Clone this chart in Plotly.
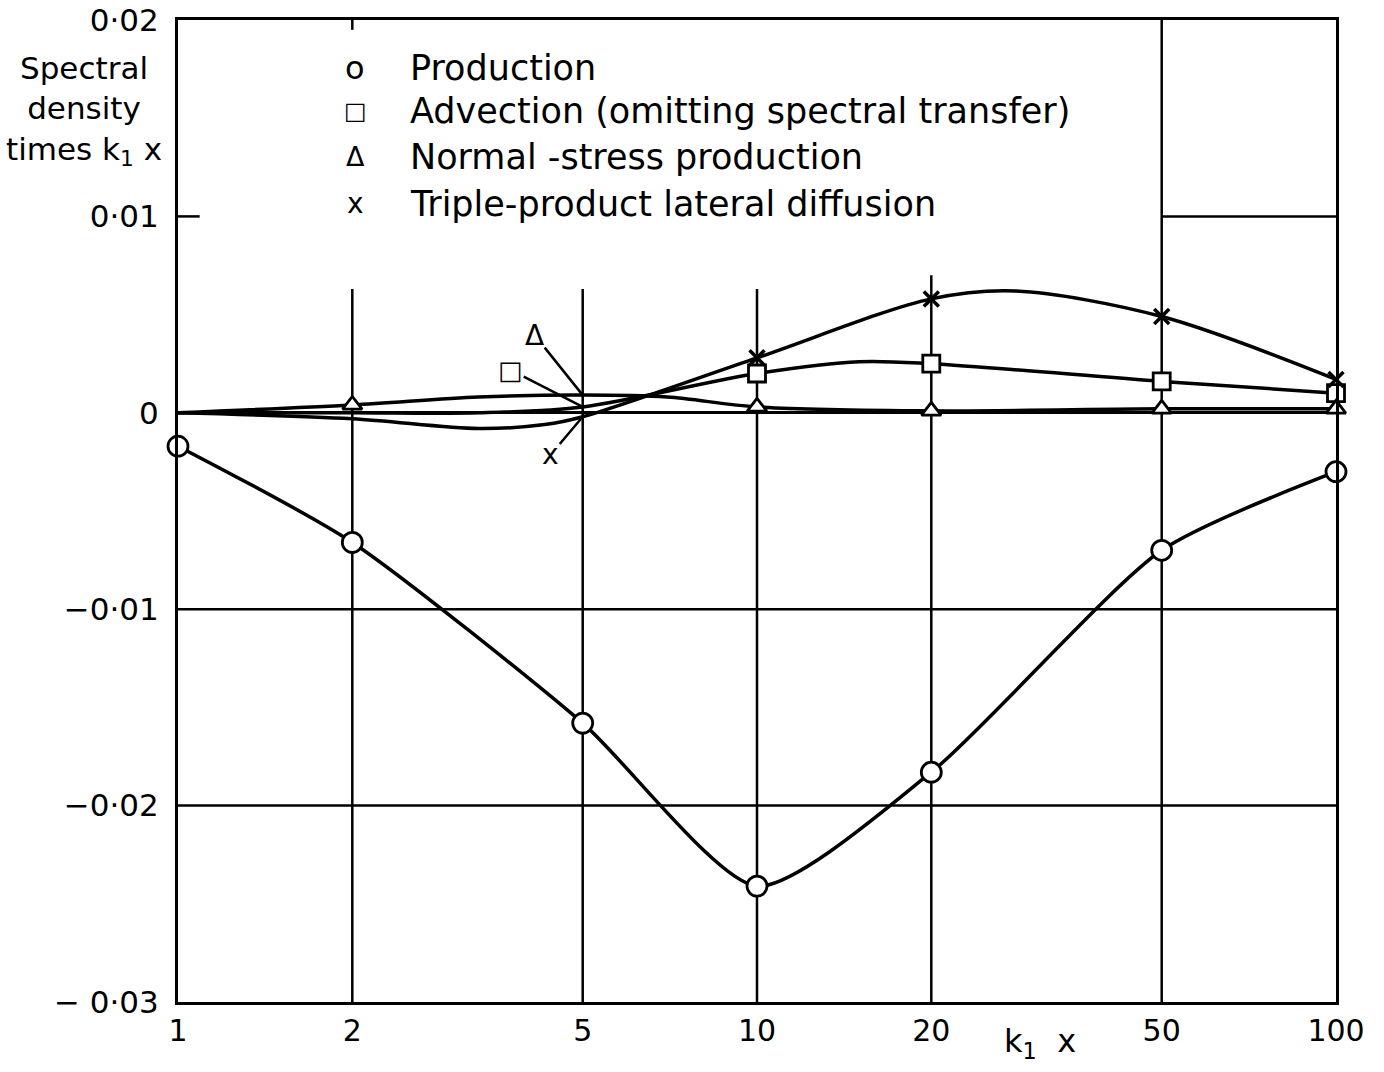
import numpy as np
import plotly.graph_objects as go

# ---- data: spectral terms against k1 x (readings along each curve) ----
prod_x = [1, 2, 5, 10, 20, 50, 100]
prod_y = [-0.0017, -0.0066, -0.0158, -0.0241, -0.0183, -0.0070, -0.0030]

adv_x = [1, 2, 3.3, 5, 10, 15, 20, 50, 100]
adv_y = [0.0, 0.0, 0.0, 0.0003, 0.0020, 0.0026, 0.0025, 0.0016, 0.0010]
adv_marked = [10, 20, 50, 100]

norm_x = [1, 2, 3.3, 5, 7, 10, 20, 50, 100]
norm_y = [0.0, 0.0004, 0.0008, 0.0009, 0.0008, 0.0003, 0.0001, 0.0002, 0.0002]
norm_marked = [2, 10, 20, 50, 100]

trip_x = [1, 2, 3.3, 4.3, 5, 10, 20, 28, 50, 100]
trip_y = [0.0, -0.0003, -0.0008, -0.0006, -0.0002, 0.0028, 0.0058, 0.0062, 0.0049, 0.0017]
trip_marked = [10, 20, 50, 100]

series_names = [
    "Production",
    "Advection (omitting spectral transfer)",
    "Normal -stress production",
    "Triple-product lateral diffusion",
]
legend_glyphs = ["o", "□", "Δ", "x"]
legend_glyph_sizes = [32, 24, 27, 28]

x_tickvals = [1, 2, 5, 10, 20, 50, 100]
x_ticktext = ["1", "2", "5", "10", "20", "50", "100"]
y_tickvals = [0.02, 0.01, 0, -0.01, -0.02, -0.03]
y_ticktext = ["0·02", "0·01", "0", "−0·01", "−0·02", "− 0·03"]

# grid segments: (x, y_from, y_to) and (y, x_from, x_to)
v_grid = [(2, -0.03, 0.0063), (5, -0.03, 0.0063), (10, -0.03, 0.0063),
          (20, -0.03, 0.0070), (50, -0.03, 0.02), (2, 0.0195, 0.02)]
h_grid = [(-0.01, 1, 100), (-0.02, 1, 100), (0.01, 50, 100), (0.01, 1, 1.09)]

FONT = "DejaVu Sans"
INK = "black"

# plot-area geometry in pixels
W, H = 1384, 1072
L, R, T, B = 178, 48, 20, 70
PW, PH = W - L - R, H - T - B


def px(xp):
    return (xp - L) / PW


def py(yp):
    return 1 - (yp - T) / PH


def pick(xs, ys, wanted):
    return [ys[xs.index(v)] for v in wanted]


fig = go.Figure()

# partial grid lines
gx, gy = [], []
for x, y0, y1 in v_grid:
    gx += [x, x, None]
    gy += [y0, y1, None]
for y, x0, x1 in h_grid:
    gx += [x0, x1, None]
    gy += [y, y, None]
fig.add_trace(go.Scatter(x=gx, y=gy, mode="lines", line=dict(color=INK, width=2.5),
                         hoverinfo="skip", showlegend=False))

# smooth curves
for xs, ys, sm in [(prod_x, prod_y, 0.65), (adv_x, adv_y, 0.9),
                   (norm_x, norm_y, 0.9), (trip_x, trip_y, 0.9)]:
    fig.add_trace(go.Scatter(x=xs, y=ys, mode="lines",
                             line=dict(color=INK, width=3.5, shape="spline", smoothing=sm),
                             hoverinfo="skip", showlegend=False))

# plotted points
mk_line = dict(color=INK, width=2.8)
fig.add_trace(go.Scatter(x=prod_x, y=prod_y, mode="markers", name=series_names[0],
                         cliponaxis=False,
                         marker=dict(symbol="circle", size=20, color="white", line=mk_line),
                         showlegend=False))
fig.add_trace(go.Scatter(x=adv_marked, y=pick(adv_x, adv_y, adv_marked), mode="markers",
                         name=series_names[1], cliponaxis=False,
                         marker=dict(symbol="square", size=17, color="white", line=mk_line),
                         showlegend=False))
fig.add_trace(go.Scatter(x=norm_marked, y=pick(norm_x, norm_y, norm_marked), mode="markers",
                         name=series_names[2], cliponaxis=False,
                         marker=dict(symbol="triangle-up", size=17, color="white", line=mk_line),
                         showlegend=False))
fig.add_trace(go.Scatter(x=trip_marked, y=pick(trip_x, trip_y, trip_marked), mode="markers",
                         name=series_names[3], cliponaxis=False,
                         marker=dict(symbol="x-thin", size=15, color=INK,
                                     line=dict(color=INK, width=3.5)),
                         showlegend=False))

annotations = []

# points at k1 x = 5 are labelled off to the side with leader lines
x5 = np.log10(5)
for glyph, val, (ax, ay), fs in [
    ("Δ", norm_y[norm_x.index(5)], (-48, -60), 28),
    ("□", adv_y[adv_x.index(5)], (-72, -37), 26),
    ("x", trip_y[trip_x.index(5)], (-32, 38), 28),
]:
    annotations.append(dict(x=x5, y=val, xref="x", yref="y", text=glyph,
                            showarrow=True, arrowhead=0, arrowwidth=2.5, arrowcolor=INK,
                            ax=ax, ay=ay, standoff=0, startstandoff=0, borderpad=0,
                            font=dict(family=FONT, size=fs, color=INK)))

# key
rows = [68, 111, 157, 204]
for glyph, gsize, name, yp in zip(legend_glyphs, legend_glyph_sizes, series_names, rows):
    annotations.append(dict(x=px(355), y=py(yp), xref="paper", yref="paper", text=glyph,
                            showarrow=False, xanchor="center", yanchor="middle",
                            font=dict(family=FONT, size=gsize, color=INK)))
    annotations.append(dict(x=px(408), y=py(yp), xref="paper", yref="paper", text=name,
                            showarrow=False, xanchor="left", yanchor="middle",
                            font=dict(family=FONT, size=35, color=INK)))

# axis titles
annotations.append(dict(x=px(84), y=py(111), xref="paper", yref="paper",
                        text="Spectral<br>density<br>times k<sub>1</sub> x",
                        showarrow=False, xanchor="center", yanchor="middle", align="center",
                        font=dict(family=FONT, size=31, color=INK)))
annotations.append(dict(x=px(1040), y=py(1043), xref="paper", yref="paper",
                        text="k<sub>1</sub>  x", showarrow=False,
                        xanchor="center", yanchor="middle",
                        font=dict(family=FONT, size=32, color=INK)))

fig.update_layout(
    width=W, height=H,
    margin=dict(l=L, r=R, t=T, b=B, autoexpand=False),
    paper_bgcolor="white", plot_bgcolor="white",
    showlegend=False,
    annotations=annotations,
    font=dict(family=FONT, color=INK),
)
fig.update_xaxes(type="log", range=[0, 2], tickvals=x_tickvals, ticktext=x_ticktext,
                 showgrid=False, zeroline=False, showline=True, linewidth=3,
                 linecolor=INK, mirror=True, ticks="", automargin=False,
                 tickfont=dict(family=FONT, size=30, color=INK))
fig.update_yaxes(range=[-0.03, 0.02], tickvals=y_tickvals, ticktext=y_ticktext,
                 showgrid=False, zeroline=True, zerolinecolor=INK, zerolinewidth=2.5,
                 showline=True, linewidth=3, linecolor=INK, mirror=True, ticks="",
                 ticklabelstandoff=10, automargin=False,
                 tickfont=dict(family=FONT, size=31, color=INK))

fig.write_html("out.html")
